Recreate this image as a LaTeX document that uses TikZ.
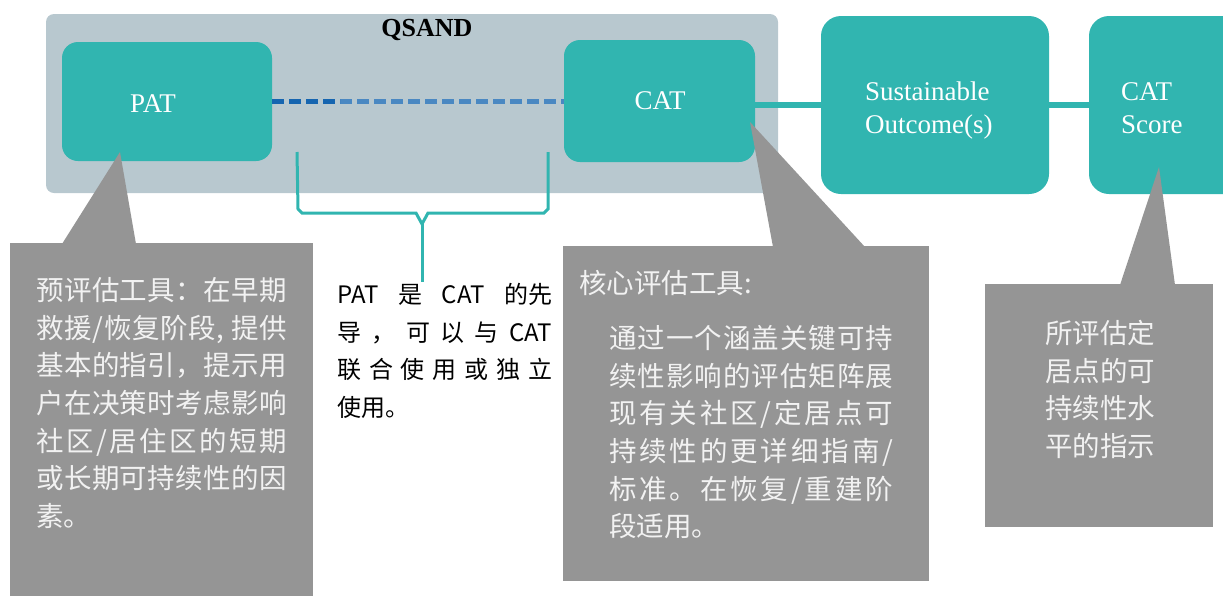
\documentclass[tikz,border=0pt]{standalone}
\usepackage{fontspec}
\usetikzlibrary{calc}
\setmainfont{Liberation Serif}
\newfontfamily\cjk{Noto Sans CJK SC}
\definecolor{tealc}{HTML}{31B5B0}
\definecolor{qsandc}{HTML}{B8C8CF}
\definecolor{greyc}{HTML}{959595}
\definecolor{ctext}{HTML}{F2F2F2}
\definecolor{dashdark}{HTML}{1565B0}
\definecolor{dashlight}{HTML}{4A88C2}
% spread a line of tokens evenly to a given width
\def\spEnd{}
\def\spEndTok{\spEnd}
\def\spGobble#1{}
\def\sprd#1{#1\sprdnext}
\def\sprdnext#1{\def\sptmp{#1}\ifx\sptmp\spEndTok\expandafter\spGobble\else\hfil\expandafter\sprd\fi{#1}}
\newcommand\spline[2]{\hbox to #1{\sprd#2\spEnd}}
\begin{document}
\begin{tikzpicture}[x=1pt,y=-1pt,
  tealbox/.style={fill=tealc, draw=none, rounded corners=16pt, inner sep=0pt},
  calloutbox/.style={fill=greyc, draw=none, inner sep=0pt, anchor=north west},
  lbl/.style={text=white, font=\fontsize{27}{33}\selectfont, inner sep=0pt},
  cjktext/.style={font=\cjk\fontsize{27.5}{37.7}\selectfont, inner sep=0pt, text=ctext},
  link/.style={draw=tealc, line width=6pt},
  dashline/.style={line width=5.5pt, dash pattern=on 12pt off 5pt}]
\useasboundingbox (0,0) rectangle (1223,595);
\clip (0,0) rectangle (1223,595);

% QSAND background
\node[fill=qsandc, rounded corners=8pt, inner sep=0pt, minimum width=732pt, minimum height=179pt] (qsand) at (412,103.5) {};
\node[font=\bfseries\fontsize{26}{30}\selectfont, anchor=base, inner sep=0pt] (qsandlbl) at (427,36) {QSAND};

% teal boxes
\node[tealbox, minimum width=210pt, minimum height=119pt] (pat) at (167,101.5) {};
\node[tealbox, minimum width=191pt, minimum height=122pt] (cat) at (659.5,101) {};
\node[tealbox, rounded corners=20pt, minimum width=228pt, minimum height=178pt] (sust) at (935,105) {};
\node[tealbox, rounded corners=20pt, minimum width=180pt, minimum height=178pt] (score) at (1179,105) {};

\node[lbl, anchor=base] (patlbl) at (153,112) {PAT};
\node[lbl, anchor=base] (catlbl) at (660,109) {CAT};
\node[lbl, anchor=north west, align=left] (sustlbl) at (865,81.5) {Sustainable\\Outcome(s)};
\node[lbl, anchor=north west, align=left] (scorelbl) at (1121,82) {CAT\\Score};

% connectors
\draw[link] (cat.east |- sust.west) -- (sust.west);
\draw[link] (sust.east) -- (score.west);
\coordinate (dashend) at (pat.east -| cat.west);
\coordinate (dashmid) at ($(pat.east)+(68,0)$);
\draw[dashline, draw=dashlight] (pat.east) -- (dashend);
\draw[dashline, draw=dashdark] (pat.east) -- (dashmid);

% bracket
\coordinate (brL) at (297,152);
\coordinate (brR) at (548,152);
\coordinate (brV) at (422,224);
\coordinate (brT) at (422,282);
\draw[tealc, line width=3pt, line join=miter] (brL) -- (298,209) -- (302,213) -- (416,213) -- (brV) -- (428,213) -- (544,213) -- (548,209) -- (brR);
\draw[tealc, line width=3pt] (brV) -- (brT);

% callouts
\coordinate (t1) at (120,152);
\coordinate (t2) at (750,122);
\coordinate (t3) at (1159,167);
\fill[greyc] (t1) -- (62,244) -- (136,244) -- cycle;
\fill[greyc] (t2) -- (773,247) -- (865,247) -- cycle;
\fill[greyc] (t3) -- (1120,285) -- (1175,285) -- cycle;
\node[calloutbox, minimum width=303pt, minimum height=360pt] (c1) at (10,243) {};
\node[calloutbox, minimum width=366pt, minimum height=335pt] (c2) at (563,246) {};
\node[calloutbox, minimum width=228pt, minimum height=243pt] (c3) at (985,284) {};

\node[cjktext, align=left, anchor=north west] (c1txt) at (36,277) {%
\spline{251pt}{预评估工具：在早期}\\
\spline{251pt}{救援/恢复阶段{, }提供}\\
\spline{251pt}{基本的指引，提示用}\\
\spline{251pt}{户在决策时考虑影响}\\
\spline{251pt}{社区/居住区的短期}\\
\spline{251pt}{或长期可持续性的因}\\
素。};

\node[cjktext, align=left, anchor=north west] (c2txt) at (579,270) {%
核心评估工具:\\[17.3pt]
\hspace*{30pt}\spline{284pt}{通过一个涵盖关键可持}\\
\hspace*{30pt}\spline{284pt}{续性影响的评估矩阵展}\\
\hspace*{30pt}\spline{284pt}{现有关社区/定居点可}\\
\hspace*{30pt}\spline{284pt}{持续性的更详细指南/}\\
\hspace*{30pt}\spline{284pt}{标准。在恢复/重建阶}\\
\hspace*{30pt}段适用。};

\node[cjktext, align=center, anchor=north] (c3txt) at (1100,320) {所评估定\\居点的可\\持续性水\\平的指示};

\node[font=\cjk\fontsize{24}{37.7}\selectfont, align=left, anchor=north west, inner sep=0pt, text=black] (midtxt) at (337,283) {%
\spline{215pt}{{PAT}是{CAT}{的先}}\\
\spline{215pt}{导，可以与{CAT}}\\
\spline{215pt}{联合使用或独立}\\
使用。};
\end{tikzpicture}
\end{document}
